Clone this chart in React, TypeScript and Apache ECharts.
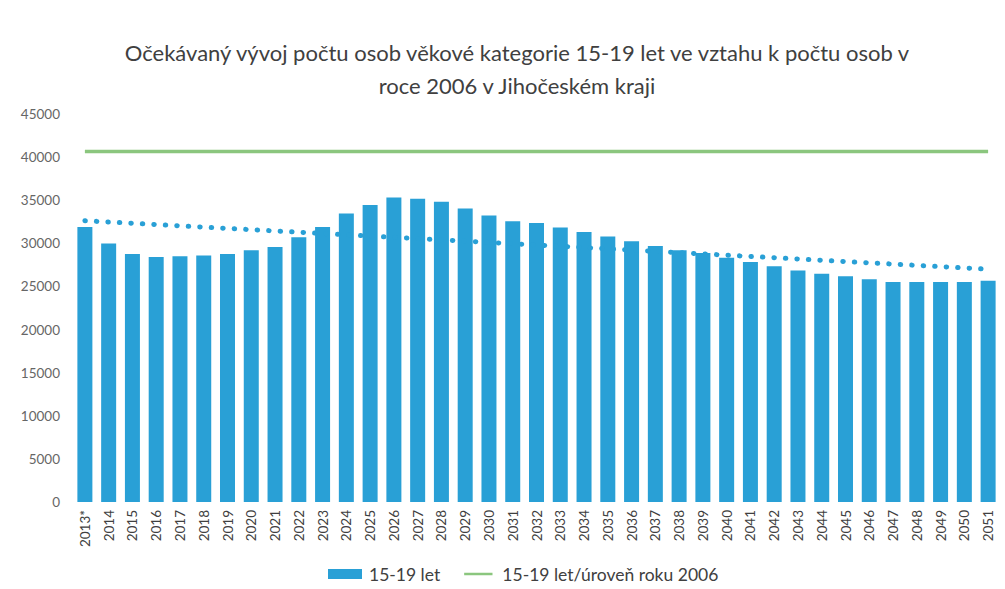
import React, { useEffect, useRef } from "react";
import * as echarts from "echarts";

const TITLE = "Očekávaný vývoj počtu osob věkové kategorie 15-19 let ve vztahu k počtu osob v\nroce 2006 v Jihočeském kraji";

const years = [
  "2013*", "2014", "2015", "2016", "2017", "2018", "2019", "2020", "2021", "2022",
  "2023", "2024", "2025", "2026", "2027", "2028", "2029", "2030", "2031", "2032",
  "2033", "2034", "2035", "2036", "2037", "2038", "2039", "2040", "2041", "2042",
  "2043", "2044", "2045", "2046", "2047", "2048", "2049", "2050", "2051",
];

const persons15to19 = [
  31900, 29970, 28770, 28420, 28490, 28600, 28770, 29190, 29580, 30700,
  31900, 33460, 34460, 35320, 35160, 34810, 34040, 33230, 32560, 32370,
  31830, 31320, 30780, 30240, 29700, 29190, 28880, 28340, 27830, 27330,
  26860, 26480, 26170, 25820, 25510, 25510, 25510, 25510, 25670,
];

const LEVEL_2006 = 40650;
const level2006 = years.map(() => LEVEL_2006);

const trendStart = 32620;
const trendEnd = 27000;

const yTicks = { min: 0, max: 45000, interval: 5000 };

const seriesNames = ["15-19 let", "15-19 let/úroveň roku 2006"];

const BLUE = "#29a0d6";
const GREEN = "#8bc67e";
const FONT = "Lato, 'Open Sans', sans-serif";

const LINE_ICON =
  "path://M0,0 L34,0 L34,0.01 L0,0.01 Z M0,4.5 L34,4.5 L34,7.5 L0,7.5 Z M0,11.99 L34,11.99 L34,12 L0,12 Z";

export default function App() {
  const ref = useRef<HTMLDivElement>(null);

  useEffect(() => {
    if (!ref.current) return;
    const chart = echarts.init(ref.current, null, { renderer: "svg" });
    chart.setOption({
      animation: false,
      backgroundColor: "#ffffff",
      textStyle: { fontFamily: FONT },
      title: {
        text: TITLE,
        left: 512,
        textAlign: "center",
        top: 31,
        textStyle: {
          fontFamily: FONT,
          fontSize: 22,
          fontWeight: "normal",
          color: "#404040",
          lineHeight: 33,
        },
      },
      legend: {
        bottom: 1,
        left: 323,
        itemWidth: 34,
        itemHeight: 10,
        itemGap: 24,
        textStyle: { fontFamily: FONT, fontSize: 17.5, color: "#404040", padding: [0, 0, 0, 2] },
        data: [
          { name: seriesNames[0], icon: "rect" },
          { name: seriesNames[1], icon: LINE_ICON },
        ],
      },
      grid: { left: 73, right: 5, top: 114, bottom: 87 },
      xAxis: {
        type: "category",
        data: years,
        axisLine: { show: false },
        axisTick: { show: false },
        axisLabel: {
          rotate: 90,
          interval: 0,
          fontFamily: FONT,
          fontSize: 13.5,
          color: "#404040",
          margin: 8,
        },
      },
      yAxis: {
        type: "value",
        min: yTicks.min,
        max: yTicks.max,
        interval: yTicks.interval,
        splitLine: { show: false },
        axisLine: { show: false },
        axisTick: { show: false },
        axisLabel: {
          fontFamily: FONT,
          fontSize: 13.5,
          color: "#666666",
          margin: 13,
          formatter: (v: number) => String(v),
        },
      },
      series: [
        {
          name: seriesNames[0],
          type: "bar",
          data: persons15to19,
          barWidth: 15,
          itemStyle: { color: BLUE },
          markLine: {
            silent: true,
            symbol: ["none", "none"],
            label: { show: false },
            lineStyle: { color: BLUE, width: 5, type: [0.5, 11], cap: "round" },
            data: [
              [
                { coord: [years[0], trendStart] },
                { coord: [years[years.length - 1], trendEnd] },
              ],
            ],
          },
        },
        {
          name: seriesNames[1],
          type: "line",
          data: level2006,
          symbol: "none",
          lineStyle: { color: GREEN, width: 3.5 },
          itemStyle: { color: GREEN },
        },
      ],
    });
    return () => chart.dispose();
  }, []);

  return (
    <div
      ref={ref}
      style={{ position: "fixed", left: 0, top: 0, width: 1005, height: 589 }}
    />
  );
}
